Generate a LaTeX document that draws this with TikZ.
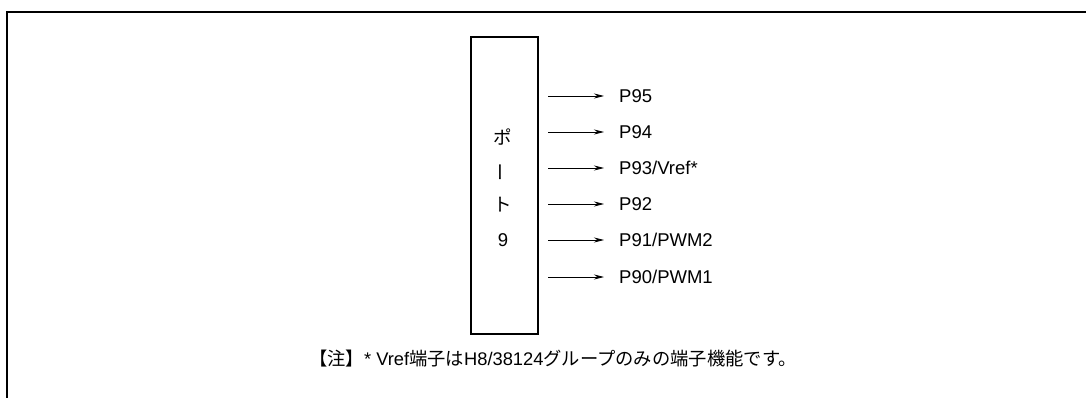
\documentclass[tikz,border=0pt]{standalone}
\usepackage{fontspec}
\setmainfont{Liberation Sans}
\newfontfamily\jp{Noto Sans CJK JP}
\usetikzlibrary{arrows.meta}
\tikzset{
  lbl/.style={anchor=west, inner sep=0pt, font=\fontsize{18.5}{22}\selectfont},
  sig/.style={-{Stealth[length=10pt,width=5pt]}, line width=0.9pt},
  boxtext/.style={inner sep=0pt, font=\fontsize{18.5}{22}\selectfont}
}
\begin{document}
\begin{tikzpicture}[x=1pt,y=-1pt]
\useasboundingbox (0,0) rectangle (1086,398);
\draw[line width=2pt] (7,400) -- (7,12) -- (1090,12);
\node[draw, line width=2pt, minimum width=67pt, minimum height=297pt, inner sep=0pt] (port) at (504,185.5) {};
\node[boxtext] (t1) at (503,137) {\jp ポ};
\node[boxtext] (t2) at (503,172) {\jp\rotatebox{90}{ー}};
\node[boxtext] (t3) at (503,205) {\jp ト};
\node[boxtext] (t4) at (503,240) {9};
\foreach \n/\y/\t in {5/96/{P95}, 4/132/{P94}, 3/168/{P93/Vref*}, 2/204/{P92}, 1/240/{P91/PWM2}, 0/277/{P90/PWM1}}{
  \coordinate (s\n) at (548,\y);
  \node[lbl] (p\n) at (619,\y) {\t};
  \draw[sig] (s\n) -- ([xshift=-15pt]p\n.west);
}
\node[inner sep=0pt, font=\fontsize{18.3}{22}\selectfont] (note) at (553,359) {{\jp 【注】}* Vref{\jp 端子は}H8/38124{\jp グループのみの端子機能です。}};
\end{tikzpicture}
\end{document}
